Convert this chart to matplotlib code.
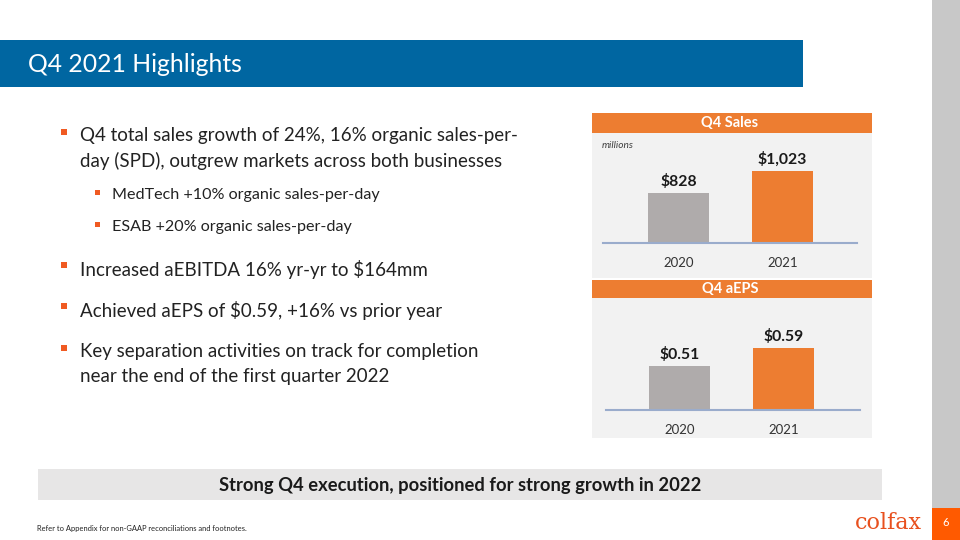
import matplotlib.pyplot as plt
from matplotlib.patches import Rectangle

plt.rcParams['font.family'] = ['Lato', 'DejaVu Sans']

# data
years = ['2020', '2021']
sales = [828, 1023]
sales_labels = ['$828', '$1,023']
eps = [0.51, 0.59]
eps_labels = ['$0.51', '$0.59']

bullets = [
    ('Q4 total sales growth of 24%, 16% organic sales-per-\nday (SPD), outgrew markets across both businesses', 0),
    ('MedTech +10% organic sales-per-day', 1),
    ('ESAB +20% organic sales-per-day', 1),
    ('Increased aEBITDA 16% yr-yr to $164mm', 0),
    ('Achieved aEPS of $0.59, +16% vs prior year', 0),
    ('Key separation activities on track for completion\nnear the end of the first quarter 2022', 0),
]
bullet_y = [136, 195, 227, 269, 310, 352]

W, H = 960, 540
ORANGE = '#ed7d31'
BLUE = '#0066a1'
GRAY_BAR = '#afabab'

fig = plt.figure(figsize=(9.6, 5.4), dpi=100)


def box(x, y, w, h, color):
    # pixel coords from top-left, drawn behind the axes
    fig.patches.append(Rectangle((x / W, 1 - (y + h) / H), w / W, h / H,
                                 transform=fig.transFigure, color=color, lw=0, zorder=-1))


def txt(x, y, s, **kw):
    return fig.text(x / W, 1 - y / H, s, **kw)


# slide frame
box(932, 0, 28, 508, '#c8c8c8')
box(932, 508, 28, 32, '#ff5a00')
txt(946, 523, '6', color='white', fontsize=8, ha='center', va='center')

box(0, 40, 803, 47, BLUE)
txt(28, 64, 'Q4 2021 Highlights', color='white', fontsize=17.8, va='center')

# bullets
for (s, lvl), y in zip(bullets, bullet_y):
    if lvl == 0:
        box(61, y - 7, 6, 6, '#f05a22')
        txt(80, y - 9, s, fontsize=13.5, color='#222222', va='top', linespacing=1.55)
    else:
        box(95, y - 5, 5, 5, '#f05a22')
        txt(112, y, s, fontsize=11.6, color='#222222', va='center')

# chart panels
box(592, 113, 280, 165, '#f2f2f2')
box(592, 113, 280, 20, ORANGE)
txt(730, 123, 'Q4 Sales', color='white', fontsize=10.5, fontweight='bold', ha='center', va='center')
txt(602, 146, 'millions', color='#404040', fontsize=7.3, style='italic', va='center')

box(592, 280, 280, 158, '#f2f2f2')
box(592, 280, 280, 18, ORANGE)
txt(730, 289, 'Q4 aEPS', color='white', fontsize=10.5, fontweight='bold', ha='center', va='center')


def bar_chart(rect, values, labels, ylo, yhi, xlo, xhi):
    x, y, w, h = rect
    ax = fig.add_axes([x / W, 1 - (y + h) / H, w / W, h / H])
    ax.patch.set_alpha(0)
    ax.bar([0, 1], values, width=0.587, color=[GRAY_BAR, ORANGE], zorder=2)
    for i, (v, lab) in enumerate(zip(values, labels)):
        ax.annotate(lab, (i, v), xytext=(0, 3), textcoords='offset points',
                    ha='center', va='bottom', fontsize=11.3, fontweight='bold', color='#1a1a1a')
    ax.set_ylim(ylo, yhi)
    ax.set_xlim(xlo, xhi)
    ax.set_xticks([0, 1], years)
    ax.set_yticks([])
    ax.tick_params(axis='x', length=0, pad=10, labelsize=9.5, labelcolor='#333333')
    for sp in ['top', 'left', 'right']:
        ax.spines[sp].set_visible(False)
    ax.spines['bottom'].set_color('#9aaccc')
    ax.spines['bottom'].set_linewidth(1.5)
    ax.spines['bottom'].set_zorder(3)
    return ax


bar_chart((603, 133, 254, 110), sales, sales_labels, 385, 1360, -0.726, 1.716)
bar_chart((606, 298, 254, 112), eps, eps_labels, 0.315, 0.813, -0.707, 1.735)

# bottom banner
box(38, 469, 844, 31, '#e7e6e6')
txt(460, 486, 'Strong Q4 execution, positioned for strong growth in 2022', fontsize=13.2,
    fontweight='bold', color='#1a1a1a', ha='center', va='center')

txt(37, 529, 'Refer to Appendix for non-GAAP reconciliations and footnotes.', fontsize=5.4,
    color='#222222', va='center')

# logo
txt(888, 523, 'colfax', fontsize=16, color='#e8501e', family='DejaVu Serif',
    ha='center', va='center')

fig.savefig('out.png', dpi=100)
